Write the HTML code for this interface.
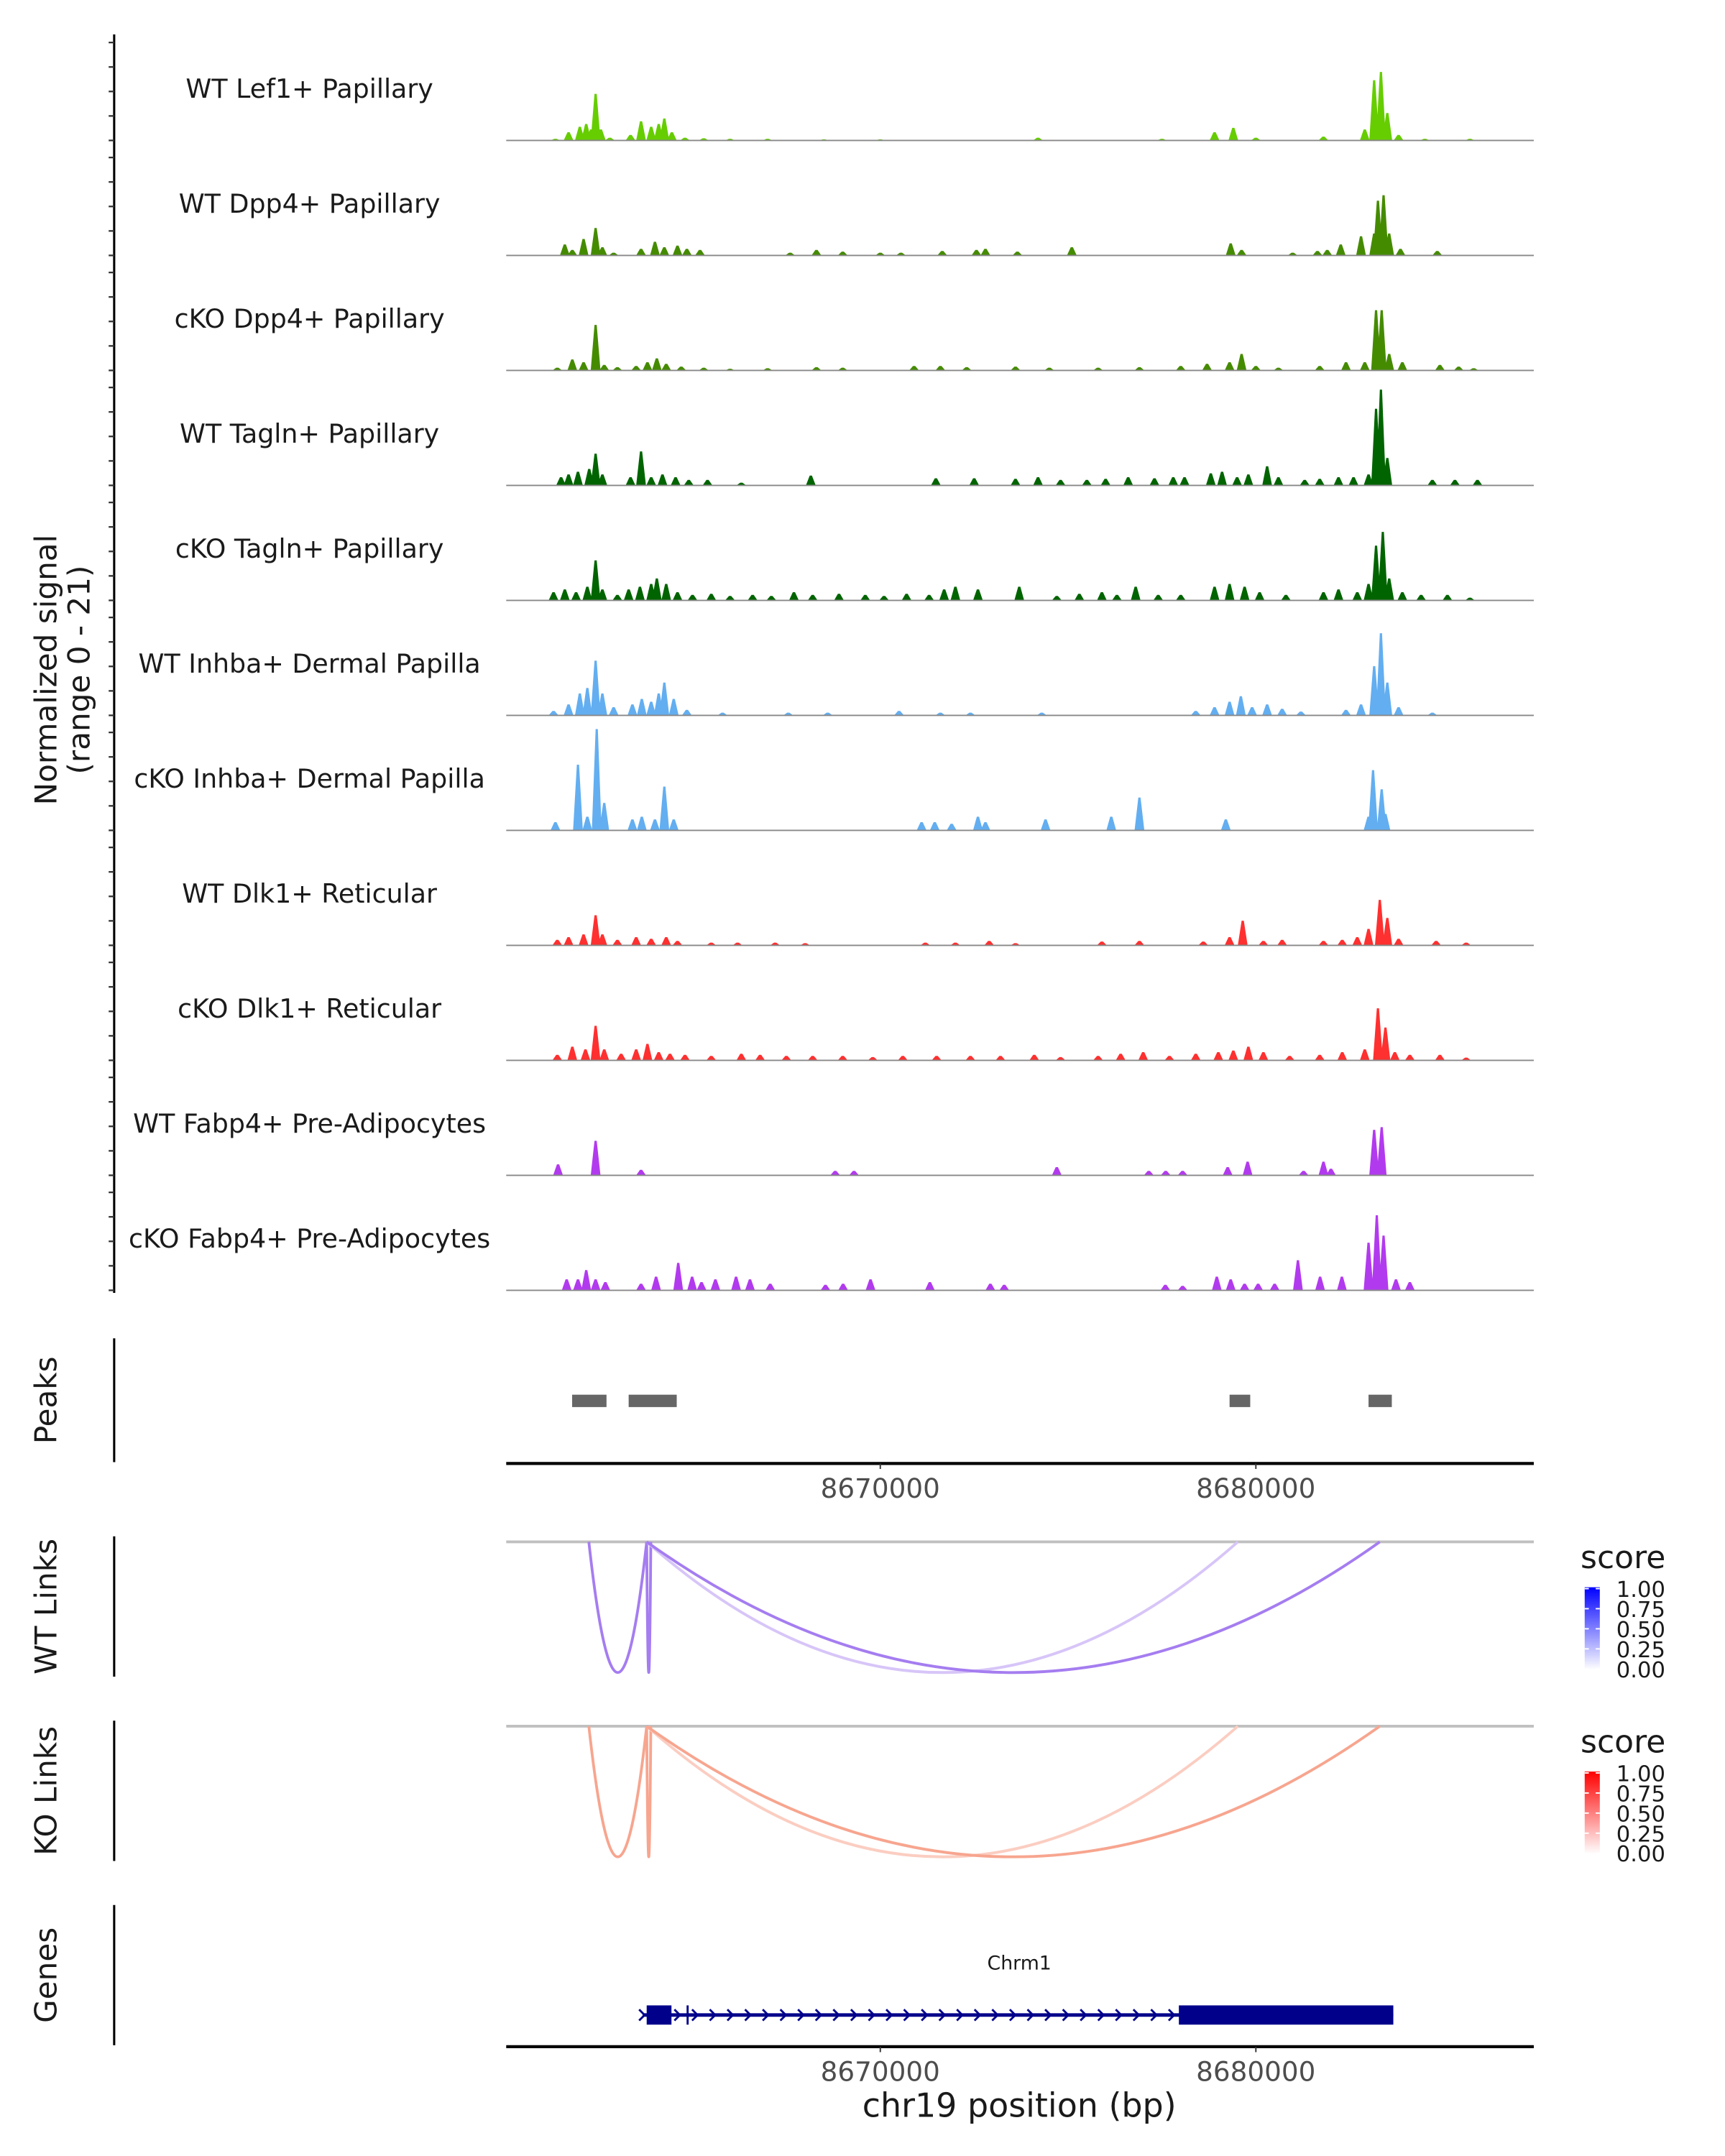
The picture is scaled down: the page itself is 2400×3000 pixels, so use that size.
<!DOCTYPE html>
<html><head><meta charset="utf-8"><style>
html,body{margin:0;padding:0;background:#fff;}
svg{display:block;font-family:"DejaVu Sans","Liberation Sans",sans-serif;}
</style></head><body>
<svg id="chart" xmlns="http://www.w3.org/2000/svg" width="2400" height="3000" viewBox="0 0 1254 1567.5">
<g id="tracks"></g>
<g id="peaks"></g>
<g id="links"></g>
<g id="genes"></g>
</svg>
<script>
const trackNames = ["WT Lef1+ Papillary","WT Dpp4+ Papillary","cKO Dpp4+ Papillary","WT Tagln+ Papillary","cKO Tagln+ Papillary","WT Inhba+ Dermal Papilla","cKO Inhba+ Dermal Papilla","WT Dlk1+ Reticular","cKO Dlk1+ Reticular","WT Fabp4+ Pre-Adipocytes","cKO Fabp4+ Pre-Adipocytes"];
const trackColors = ["#66cd00","#458b00","#458b00","#006400","#006400","#63aef0","#63aef0","#ff3030","#ff3030","#b23aee","#b23aee"];
const sigLef1 = [[8661350,0.3],[8661700,1.5],[8662000,2.5],[8662170,3],[8662300,2],[8662420,8.5],[8662560,2],[8662800,0.5],[8663350,1],[8663630,3.5],[8663900,2.5],[8664100,3],[8664250,4],[8664450,1.5],[8664800,0.5],[8665300,0.4],[8666000,0.3],[8667000,0.3],[8668500,0.2],[8670000,0.2],[8674200,0.5],[8677500,0.3],[8678900,1.5],[8679400,2.3],[8680000,0.5],[8681800,0.7],[8682900,2],[8683150,11],[8683330,12.5],[8683500,5],[8683800,1],[8684500,0.3],[8685700,0.3]];
const sigWtDpp4 = [[8661600,2],[8661800,1],[8662100,3],[8662420,5],[8662600,1.5],[8662900,0.5],[8663630,1.2],[8664000,2.5],[8664250,1.5],[8664600,1.8],[8664850,1.2],[8665200,1],[8667600,0.5],[8668300,1],[8669000,0.7],[8670000,0.5],[8670550,0.5],[8671650,0.8],[8672560,1],[8672800,1.2],[8673650,0.7],[8675100,1.5],[8679330,2.2],[8679620,1],[8680980,0.5],[8681640,0.8],[8681900,1],[8682260,2],[8682800,3.5],[8683150,4],[8683250,10],[8683400,11],[8683550,4],[8683850,1.2],[8684830,0.8]];
const sigKoDpp4 = [[8661400,0.5],[8661800,2],[8662100,1.5],[8662420,8.3],[8662650,1],[8663000,0.6],[8663500,0.8],[8663800,1.5],[8664050,2.2],[8664300,1.2],[8664700,0.7],[8665300,0.5],[8666000,0.3],[8667000,0.4],[8668300,0.6],[8669000,0.5],[8670900,0.8],[8671600,0.8],[8672300,0.6],[8673600,0.7],[8674500,0.5],[8675800,0.5],[8676900,0.6],[8678000,0.8],[8678700,1.2],[8679300,1.5],[8679620,3],[8680000,0.8],[8680600,0.5],[8681700,0.8],[8682400,1.5],[8682900,1.5],[8683200,11],[8683350,11],[8683550,3],[8683900,1.5],[8684900,1],[8685400,0.7],[8685800,0.4]];
const sigWtTagln = [[8661500,1.5],[8661700,2],[8661950,2.5],[8662250,3],[8662420,5.8],[8662600,2],[8663350,1.5],[8663630,6.2],[8663900,1.5],[8664200,2],[8664550,1.5],[8664900,1],[8665400,1],[8666300,0.5],[8668150,1.8],[8671480,1.3],[8672500,1.3],[8673600,1.2],[8674200,1.5],[8674800,1],[8675500,1],[8676000,1.2],[8676600,1.5],[8677300,1.3],[8677800,1.5],[8678100,1.5],[8678800,2.2],[8679100,2.5],[8679500,1.5],[8679800,2],[8680300,3.5],[8680600,1.5],[8681300,1],[8681700,1.2],[8682200,1.5],[8682600,1.5],[8683000,2],[8683200,14],[8683330,17.5],[8683500,5],[8684700,1],[8685300,1],[8685900,1]];
const sigKoTagln = [[8661300,1.5],[8661600,2],[8661900,1.5],[8662200,2.5],[8662420,7.3],[8662600,2],[8663000,1],[8663300,2],[8663600,2.5],[8663900,3],[8664050,4],[8664300,3],[8664600,1.5],[8665000,1],[8665500,1.2],[8666000,0.8],[8666600,1],[8667100,0.8],[8667700,1.5],[8668200,1],[8668900,1.2],[8669600,1],[8670100,0.8],[8670700,1.2],[8671300,1],[8671700,2],[8672000,2.5],[8672600,2],[8673700,2.5],[8674700,0.8],[8675300,1.2],[8675900,1.5],[8676300,1],[8676800,2.5],[8677400,1],[8678000,1],[8678900,2.5],[8679300,3],[8679700,2.5],[8680100,1.5],[8680800,1],[8681800,1.5],[8682200,2],[8682700,1.5],[8683000,3],[8683200,10],[8683380,12.5],[8683550,4],[8683900,1.5],[8684400,1],[8685100,1],[8685700,0.5]];
const sigWtInhba = [[8661300,0.8],[8661700,2],[8662000,4],[8662200,5],[8662420,10],[8662600,4],[8662900,1.5],[8663400,2],[8663650,3],[8663900,2.5],[8664100,4],[8664250,6],[8664500,3],[8664850,1],[8665800,0.5],[8667550,0.5],[8668600,0.5],[8670500,0.8],[8671600,0.5],[8672400,0.5],[8674300,0.5],[8678400,0.8],[8678900,1.5],[8679300,2.5],[8679600,3.5],[8679900,1.5],[8680300,2],[8680700,1.2],[8681200,0.7],[8682400,1],[8682800,2],[8683150,9],[8683330,15],[8683500,6],[8683800,1.5],[8684700,0.5]];
const sigKoInhba = [[8661350,1.5],[8661950,12],[8662200,2.5],[8662450,18.5],[8662650,5],[8663400,2],[8663650,2.5],[8664000,2],[8664250,8],[8664500,2],[8671100,1.5],[8671450,1.5],[8671900,1.2],[8672600,2.5],[8672800,1.5],[8674400,2],[8676150,2.5],[8676900,6],[8679200,2],[8683000,2.5],[8683120,11],[8683350,7.5],[8683450,3]];
const sigWtDlk1 = [[8661400,1],[8661700,1.5],[8662100,2],[8662420,5.5],[8662600,2],[8663000,1],[8663500,1.5],[8663900,1.2],[8664300,1.5],[8664600,0.8],[8665500,0.5],[8666200,0.5],[8667200,0.5],[8668000,0.4],[8671200,0.5],[8672000,0.5],[8672900,0.8],[8673600,0.4],[8675900,0.7],[8676900,0.8],[8678600,0.7],[8679300,1.5],[8679650,4.5],[8680200,0.8],[8680700,1],[8681800,0.8],[8682300,1],[8682700,1.5],[8683000,3],[8683300,8.3],[8683500,5],[8683800,1.2],[8684800,0.8],[8685600,0.5]];
const sigKoDlk1 = [[8661400,1],[8661800,2.5],[8662150,2],[8662420,6.3],[8662650,2],[8663100,1.2],[8663500,2],[8663800,3],[8664100,1.5],[8664400,1.2],[8664800,1],[8665500,0.8],[8666300,1.2],[8666800,1],[8667500,0.8],[8668200,0.8],[8669000,0.8],[8669800,0.6],[8670600,0.8],[8671500,0.8],[8672400,0.8],[8673200,0.8],[8674100,1],[8674800,0.6],[8675800,0.8],[8676400,1.2],[8677000,1.5],[8677700,0.8],[8678400,1.2],[8679000,1.5],[8679400,1.8],[8679800,2.5],[8680200,1.5],[8680900,0.8],[8681700,1],[8682300,1.5],[8682900,2],[8683250,9.5],[8683450,6],[8683700,1.5],[8684100,1],[8684900,1],[8685600,0.5]];
const sigWtFabp4 = [[8661420,2],[8662420,6.3],[8663630,1],[8668800,0.8],[8669300,0.8],[8674700,1.5],[8677150,0.8],[8677600,0.8],[8678050,0.8],[8679250,1.5],[8679780,2.5],[8681270,0.8],[8681800,2.5],[8682000,1.2],[8683150,8.3],[8683350,8.8]];
const sigKoFabp4 = [[8661650,2],[8661950,2],[8662170,3.7],[8662420,2],[8662680,1.5],[8663630,1.2],[8664030,2.5],[8664620,5],[8664990,2.5],[8665240,1.5],[8665610,2],[8666160,2.5],[8666530,2],[8667070,1.2],[8668540,1],[8669010,1.2],[8669740,2],[8671320,1.5],[8672930,1.2],[8673300,1],[8677590,1],[8678050,0.8],[8678960,2.5],[8679330,2],[8679700,1.2],[8680060,1.2],[8680500,1.2],[8681120,5.5],[8681710,2.5],[8682290,2.5],[8683000,8.7],[8683220,13.7],[8683400,10],[8683730,2],[8684100,1.5]];
const peakStarts = [8661795,8663300,8679300,8683000];
const peakEnds = [8662710,8664580,8679850,8683620];
const linkStarts = [8662240,8663780,8663780,8663780];
const linkEnds = [8663780,8663890,8679520,8683300];
const wtScores = [0.45,0.45,0.2,0.45];
const koScores = [0.45,0.45,0.25,0.45];
const xTicks = [8670000,8680000];
const legendTicks = ["1.00","0.75","0.50","0.25","0.00"];
const geneStart = 8663670, geneEnd = 8683660;
const exonStarts = [8663780,8677950];
const exonEnds = [8664440,8683660];

const signals = [sigLef1,sigWtDpp4,sigKoDpp4,sigWtTagln,sigKoTagln,sigWtInhba,sigKoInhba,sigWtDlk1,sigKoDlk1,sigWtFabp4,sigKoFabp4];
const NS="http://www.w3.org/2000/svg";
const X0=368,X1=1115,BP0=8660040,BP1=8687400;
const xs = bp => X0+(bp-BP0)/(BP1-BP0)*(X1-X0);
const TRACK_H=83.6, TOP0=18.5, YMAX=21;
function mk(tag,attrs,parent){const e=document.createElementNS(NS,tag);for(const k in attrs)e.setAttribute(k,attrs[k]);parent.appendChild(e);return e;}
function txt(parent,x,y,s,size,anchor,rot,fill){const t=mk('text',{x:x,y:y,'font-size':size,'text-anchor':anchor||'middle',fill:fill||'#1a1a1a'},parent);if(rot)t.setAttribute('transform','rotate(-90 '+x+' '+y+')');t.textContent=s;return t;}

const gT=document.getElementById('tracks');
let ax=mk('line',{x1:83,y1:25,x2:83,y2:940,stroke:'#000','stroke-width':1.6},gT);


for(let i=0;i<signals.length;i++){
  const base=TOP0+TRACK_H*(i+1);
  const ys=v=>base-v/YMAX*TRACK_H;
  const g=mk('g',{},gT);
  
  
  for(let k=0;k<5;k++){
    const yy=base-k*17.8;
    mk('line',{x1:79,x2:83,y1:yy,y2:yy,stroke:'#333','stroke-width':1.2},g);
  }
  const lab=txt(g,225,base-31,trackNames[i],19);
  
  
  let d='';
  const hw=130;
  signals[i].forEach(p=>{
    const a=xs(p[0]-hw),b=xs(p[0]+hw),c=xs(p[0]);
    d+='M'+a+' '+base+'L'+(c-0.8)+' '+ys(p[1])+'L'+(c+0.8)+' '+ys(p[1])+'L'+b+' '+base+'Z';
  });
  const path=mk('path',{d:d,fill:trackColors[i]},g);
  
  
  mk('line',{x1:X0,x2:X1,y1:base,y2:base,stroke:'#888','stroke-width':1},g);
}
txt(gT,41,487,'Normalized signal',22,'middle',true);
txt(gT,65,487,'(range 0 - 21)',22,'middle',true);

function xAxis(parent,y,name){
  const g=mk('g',{},parent);
  
  
  mk('line',{x1:X0,x2:X1,y1:y,y2:y,stroke:'#000','stroke-width':2.2},g);
  xTicks.forEach(t=>{mk('line',{x1:xs(t),x2:xs(t),y1:y,y2:y+4,stroke:'#333','stroke-width':1},g);txt(g,xs(t),y+25,String(t),19.5,'middle',false,'#4d4d4d');});
}
const gP=document.getElementById('peaks');
mk('line',{x1:83,y1:973,x2:83,y2:1063,stroke:'#000','stroke-width':1.6},gP);
txt(gP,41,1018,'Peaks',22,'middle',true);
for(let i=0;i<peakStarts.length;i++){
  const r=mk('rect',{x:xs(peakStarts[i]),y:1014,width:xs(peakEnds[i])-xs(peakStarts[i]),height:9,fill:'#666'},gP);
  
  
}
xAxis(gP,1064,'peaks-x-axis');

const gL=document.getElementById('links');
function cl(v){return Math.max(0,Math.min(255,Math.round(v)));}
function wtCol(s){return 'rgb('+cl(255-s*200)+','+cl(255-s*290)+','+cl(255-s*33)+')';}
function koCol(s){return 'rgb('+cl(255-s*18)+','+cl(255-s*200)+','+cl(255-s*250)+')';}
function linkPanel(top,label,scores,colf,gradId,c1,name){
  const g=mk('g',{},gL);
  
  
  mk('line',{x1:83,y1:top-4,x2:83,y2:top+98,stroke:'#000','stroke-width':1.6},g);
  txt(g,41,top+47,label,22,'middle',true);
  mk('line',{x1:X0,x2:X1,y1:top,y2:top,stroke:'#c0c0c0','stroke-width':2},g);
  const depth=95;
  for(let i=0;i<linkStarts.length;i++){
    const a=xs(linkStarts[i]),b=xs(linkEnds[i]);
    const p=mk('path',{d:'M'+a+' '+top+'Q'+((a+b)/2)+' '+(top+2*depth)+' '+b+' '+top,fill:'none',stroke:colf(scores[i]),'stroke-width':2},g);
    
    
  }
  const defs=mk('defs',{},g);
  const lg=mk('linearGradient',{id:gradId,x1:0,y1:0,x2:0,y2:1},defs);
  mk('stop',{offset:0,'stop-color':c1},lg);
  mk('stop',{offset:1,'stop-color':'#ffffff'},lg);
  const lt=txt(g,1149,top+19,'score',23,'start');
  
  
  const bar=mk('rect',{x:1152,y:top+33,width:11,height:60,fill:'url(#'+gradId+')'},g);
  
  
  legendTicks.forEach((s,k)=>{
    const yy=top+34+k*14.6;
    mk('line',{x1:1152,x2:1155,y1:yy,y2:yy,stroke:'#fff','stroke-width':1},g);
    mk('line',{x1:1160,x2:1163,y1:yy,y2:yy,stroke:'#fff','stroke-width':1},g);
    txt(g,1175,yy+6,s,16,'start');
  });
}
linkPanel(1121,'WT Links',wtScores,wtCol,'gwt','#0000ff','wt-links-panel');
linkPanel(1255,'KO Links',koScores,koCol,'gko','#ff0000','ko-links-panel');

const gG=document.getElementById('genes');
mk('line',{x1:83,y1:1385,x2:83,y2:1487,stroke:'#000','stroke-width':1.6},gG);
txt(gG,41,1436,'Genes',22,'middle',true);
const gl=txt(gG,741,1432,'Chrm1',14);


mk('line',{x1:xs(geneStart),x2:xs(geneEnd),y1:1465,y2:1465,stroke:'#00008b','stroke-width':2.5},gG);
let ad='';
for(let bp=geneStart;bp<exonStarts[1];bp+=470){const x=xs(bp);ad+='M'+(x-2.5)+' 1461L'+(x+1.5)+' 1465L'+(x-2.5)+' 1469';}
mk('path',{d:ad,fill:'none',stroke:'#00008b','stroke-width':1.5},gG);
mk('line',{x1:xs(8664870),x2:xs(8664870),y1:1458,y2:1472,stroke:'#00008b','stroke-width':1.5},gG);
for(let i=0;i<exonStarts.length;i++){
  const r=mk('rect',{x:xs(exonStarts[i]),y:1458,width:xs(exonEnds[i])-xs(exonStarts[i]),height:14,fill:'#00008b'},gG);
  
  
}
xAxis(gG,1488,'genes-x-axis');
const xt=txt(gG,741,1539,'chr19 position (bp)',24);


</script>
</body></html>
